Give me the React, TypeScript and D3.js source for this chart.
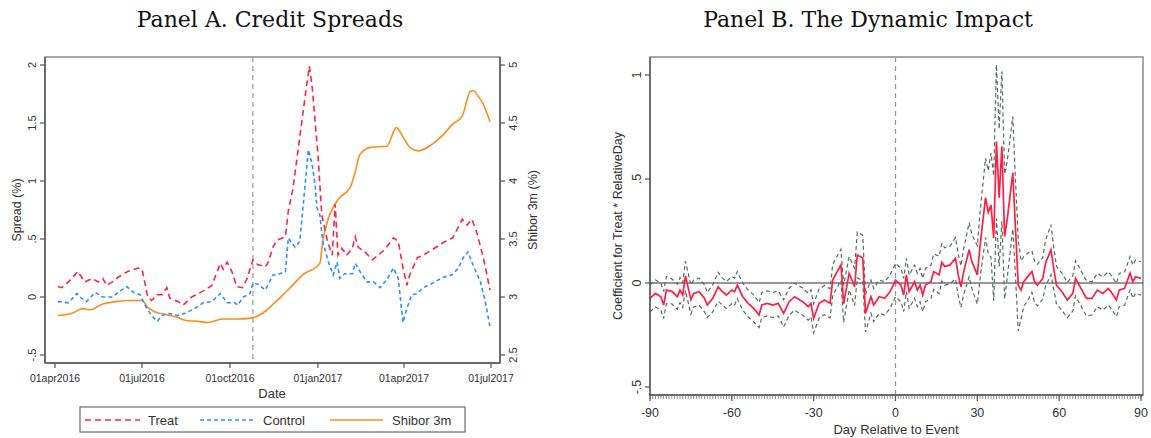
import React from "react";
import * as d3 from "d3";

// ---------- Panel A data (days since 01apr2016) ----------
const treatDay = [3, 7, 14, 24, 31, 39, 45, 50, 54, 60, 66, 76, 87, 91, 97, 101, 107, 112, 117, 120, 129, 134, 143, 150, 157, 164, 173, 176, 180, 185, 190, 196, 201, 207, 212, 220, 223, 228, 232, 241, 244, 249, 256, 262, 266, 269, 272, 275, 279, 285, 290, 293, 296, 300, 305, 311, 314, 317, 324, 332, 338, 345, 354, 359, 364, 368, 371, 379, 385, 395, 406, 416, 426, 431, 436, 441, 448, 455];
const treatSpread = [0.09, 0.08, 0.13, 0.22, 0.13, 0.16, 0.13, 0.16, 0.10, 0.13, 0.17, 0.22, 0.25, 0.24, 0.0, -0.03, 0.02, 0.02, 0.08, -0.01, -0.04, -0.07, 0.0, 0.03, 0.06, 0.10, 0.29, 0.24, 0.30, 0.22, 0.09, 0.08, 0.16, 0.32, 0.28, 0.26, 0.30, 0.43, 0.49, 0.52, 0.74, 0.94, 1.38, 1.75, 1.99, 1.81, 1.52, 1.23, 0.71, 0.48, 0.36, 0.80, 0.36, 0.42, 0.36, 0.42, 0.52, 0.43, 0.39, 0.32, 0.36, 0.41, 0.51, 0.48, 0.25, 0.10, 0.19, 0.34, 0.36, 0.41, 0.47, 0.51, 0.67, 0.62, 0.67, 0.56, 0.34, 0.06];

const controlDay = [3, 14, 23, 26, 33, 42, 50, 60, 66, 75, 82, 89, 94, 101, 107, 112, 118, 128, 136, 146, 155, 164, 173, 180, 188, 191, 197, 204, 207, 212, 220, 228, 232, 241, 244, 251, 256, 262, 265, 269, 272, 274, 277, 280, 286, 291, 295, 298, 303, 311, 314, 319, 326, 333, 340, 347, 354, 359, 364, 368, 373, 379, 385, 395, 406, 415, 422, 427, 432, 437, 445, 450, 455];
const controlSpread = [-0.04, -0.05, 0.03, 0.0, -0.04, 0.04, 0.0, 0.0, 0.04, 0.09, 0.04, 0.02, -0.07, -0.16, -0.21, -0.16, -0.14, -0.16, -0.14, -0.10, -0.05, -0.04, 0.03, -0.05, -0.05, -0.07, 0.0, 0.03, 0.12, 0.11, 0.06, 0.19, 0.19, 0.22, 0.51, 0.43, 0.48, 1.0, 1.27, 1.14, 0.97, 0.77, 0.71, 0.48, 0.30, 0.19, 0.30, 0.16, 0.20, 0.20, 0.29, 0.22, 0.13, 0.13, 0.08, 0.15, 0.25, 0.16, -0.22, -0.10, 0.02, 0.03, 0.08, 0.12, 0.17, 0.19, 0.25, 0.34, 0.39, 0.28, 0.13, -0.04, -0.26];

const shiborDay = [3, 18, 29, 37, 50, 63, 81, 91, 97, 105, 115, 126, 136, 150, 160, 175, 191, 206, 217, 227, 235, 246, 259, 277, 280, 286, 291, 296, 309, 314, 319, 330, 347, 357, 364, 371, 380, 395, 406, 416, 426, 431, 434, 438, 441, 448, 455];
const shiborRate = [2.84, 2.86, 2.90, 2.89, 2.94, 2.96, 2.97, 2.97, 2.91, 2.87, 2.85, 2.83, 2.80, 2.79, 2.78, 2.81, 2.81, 2.82, 2.86, 2.93, 2.99, 3.08, 3.19, 3.29, 3.48, 3.68, 3.77, 3.84, 3.95, 4.08, 4.23, 4.29, 4.30, 4.46, 4.38, 4.29, 4.26, 4.32, 4.40, 4.49, 4.56, 4.70, 4.77, 4.78, 4.75, 4.66, 4.51];

const eventDayA = 207;
const xTickLabelsA = ["01apr2016", "01jul2016", "01oct2016", "01jan2017", "01apr2017", "01jul2017"];
const xTickDatesA = [[2016, 3, 1], [2016, 6, 1], [2016, 9, 1], [2017, 0, 1], [2017, 3, 1], [2017, 6, 1]];
const yTicksLeft = [-0.5, 0, 0.5, 1, 1.5, 2];
const yTicksRight = [2.5, 3, 3.5, 4, 4.5, 5];

// ---------- Panel B data ----------
const relDay = [-90, -88, -86, -85, -84, -82, -80, -79, -78, -77, -75, -74, -72, -70, -69, -67, -65, -64, -62, -60, -59, -58, -56, -54, -52, -50, -49, -47, -45, -43, -41, -39, -37, -34, -32, -31, -30, -28, -26, -24, -23, -20, -19, -17, -15, -14, -12, -11, -9, -8, -6, -4, -2, 0, 2, 3, 4, 5, 7, 8, 9, 10, 11, 13, 14, 16, 17, 18, 20, 22, 23, 24, 25, 27, 28, 30, 31, 33, 34, 35, 36, 37, 38, 39, 40, 41, 43, 44, 45, 46, 47, 49, 50, 51, 52, 54, 55, 57, 58, 59, 61, 63, 65, 66, 68, 70, 72, 74, 76, 78, 79, 81, 82, 84, 86, 87, 88, 90];
const coef = [-0.074, -0.05, -0.066, -0.106, -0.034, -0.04, -0.066, -0.034, -0.058, 0.034, -0.08, -0.05, -0.042, -0.074, -0.106, -0.074, -0.018, -0.034, -0.058, -0.034, -0.042, -0.01, -0.066, -0.098, -0.122, -0.154, -0.106, -0.098, -0.106, -0.098, -0.146, -0.09, -0.066, -0.09, -0.114, -0.098, -0.17, -0.098, -0.082, -0.098, 0.015, 0.087, -0.1, 0.047, -0.018, 0.135, 0.12, -0.146, -0.066, -0.106, -0.066, -0.074, -0.042, 0.014, -0.01, -0.058, 0.039, -0.042, 0.006, -0.034, -0.01, -0.058, -0.01, 0.006, 0.055, 0.039, 0.10, 0.079, 0.087, 0.119, 0.039, -0.018, 0.055, 0.16, 0.103, 0.039, 0.18, 0.41, 0.34, 0.375, 0.215, 0.68, 0.41, 0.657, 0.223, 0.31, 0.53, 0.26, -0.01, -0.034, 0.006, 0.039, 0.055, 0.006, -0.01, 0.022, 0.095, 0.16, 0.071, -0.01, -0.042, -0.082, -0.05, 0.022, -0.026, -0.074, -0.074, -0.034, -0.05, -0.026, -0.042, -0.082, -0.034, -0.026, 0.047, 0.006, 0.03, 0.022];
const halfWidth = [0.065, 0.065, 0.065, 0.065, 0.065, 0.06, 0.06, 0.06, 0.06, 0.07, 0.07, 0.065, 0.065, 0.065, 0.06, 0.065, 0.07, 0.065, 0.065, 0.065, 0.065, 0.065, 0.065, 0.065, 0.065, 0.06, 0.06, 0.06, 0.06, 0.06, 0.065, 0.065, 0.065, 0.065, 0.065, 0.065, 0.07, 0.07, 0.07, 0.07, 0.075, 0.075, 0.09, 0.08, 0.09, 0.11, 0.11, 0.09, 0.08, 0.08, 0.08, 0.08, 0.08, 0.08, 0.08, 0.08, 0.08, 0.08, 0.08, 0.08, 0.08, 0.08, 0.08, 0.08, 0.085, 0.09, 0.09, 0.09, 0.09, 0.1, 0.1, 0.1, 0.11, 0.13, 0.13, 0.14, 0.16, 0.19, 0.2, 0.25, 0.3, 0.37, 0.33, 0.36, 0.3, 0.28, 0.27, 0.23, 0.22, 0.14, 0.12, 0.11, 0.1, 0.1, 0.1, 0.1, 0.11, 0.12, 0.1, 0.09, 0.09, 0.085, 0.085, 0.085, 0.085, 0.085, 0.08, 0.08, 0.08, 0.08, 0.08, 0.08, 0.08, 0.08, 0.08, 0.08, 0.08, 0.08];
const xTicksB = [-90, -60, -30, 0, 30, 60, 90];
const yTicksB = [-0.5, 0, 0.5, 1];

const SANS = "'Liberation Sans', Arial, sans-serif";
const SERIF = "'DejaVu Serif', serif";

const fmt = (v: number) => {
  if (v === 0) return "0";
  const s = String(v);
  return s.replace(/^0\./, ".").replace(/^-0\./, "-.");
};

function PanelA() {
  const start = new Date(2016, 3, 1);
  const toDate = (d: number) => d3.timeDay.offset(start, d);
  const x = d3.scaleTime().domain([start, new Date(2017, 6, 1)]).range([55, 491]);
  const y = d3.scaleLinear().domain([-0.5, 2]).range([355, 65]);
  const yR = d3.scaleLinear().domain([2.5, 5]).range([355, 65]);
  const L = 45, R = 500, T = 57, B = 363;

  const lineS = d3.line<[number, number]>().x((p) => x(toDate(p[0]))).y((p) => y(p[1]));
  const lineR = d3.line<[number, number]>().x((p) => x(toDate(p[0]))).y((p) => yR(p[1])).curve(d3.curveMonotoneX);
  const tr = treatDay.map((d, i) => [d, treatSpread[i]] as [number, number]);
  const co = controlDay.map((d, i) => [d, controlSpread[i]] as [number, number]);
  const sh = shiborDay.map((d, i) => [d, shiborRate[i]] as [number, number]);
  const ev = x(toDate(eventDayA));

  return (
    <g>
      <text x={270} y={27} textAnchor="middle" fontFamily={SERIF} fontSize={22} fill="#111">Panel A. Credit Spreads</text>
      <rect x={L} y={T} width={R - L} height={B - T} fill="none" stroke="#8a8a8a" strokeWidth={1.5} />
      <line x1={ev} x2={ev} y1={T} y2={B} stroke="#999" strokeWidth={1.2} strokeDasharray="5,4" />
      <path d={lineR(sh) || ""} fill="none" stroke="#ff8c1e" strokeWidth={1.6} />
      <path d={lineS(co) || ""} fill="none" stroke="#2e90ff" strokeWidth={1.6} strokeDasharray="4,3" />
      <path d={lineS(tr) || ""} fill="none" stroke="#ff2447" strokeWidth={1.6} strokeDasharray="6,4" />
      <line x1={L} x2={L} y1={T} y2={B} stroke="#555" strokeWidth={1.4} />
      <line x1={R} x2={R} y1={T} y2={B} stroke="#555" strokeWidth={1.4} />
      <line x1={L} x2={R} y1={B} y2={B} stroke="#555" strokeWidth={1.4} />
      {yTicksLeft.map((v) => (
        <g key={"l" + v}>
          <line x1={L - 5} x2={L} y1={y(v)} y2={y(v)} stroke="#555" strokeWidth={1.2} />
          <text transform={`translate(${L - 9},${y(v)}) rotate(-90)`} textAnchor="middle" fontFamily={SANS} fontSize={11} fill="#333">{fmt(v)}</text>
        </g>
      ))}
      {yTicksRight.map((v) => (
        <g key={"r" + v}>
          <line x1={R} x2={R + 5} y1={yR(v)} y2={yR(v)} stroke="#555" strokeWidth={1.2} />
          <text transform={`translate(${R + 17},${yR(v)}) rotate(-90)`} textAnchor="middle" fontFamily={SANS} fontSize={11} fill="#333">{fmt(v)}</text>
        </g>
      ))}
      {xTickDatesA.map((dd, i) => {
        const px = x(new Date(dd[0], dd[1], dd[2]));
        return (
          <g key={"x" + i}>
            <line x1={px} x2={px} y1={B} y2={B + 5} stroke="#555" strokeWidth={1.2} />
            <text x={px} y={B + 19} textAnchor="middle" fontFamily={SANS} fontSize={10.5} fill="#333">{xTickLabelsA[i]}</text>
          </g>
        );
      })}
      <text x={272} y={398} textAnchor="middle" fontFamily={SANS} fontSize={13} fill="#333">Date</text>
      <text transform={`translate(21,${(T + B) / 2}) rotate(-90)`} textAnchor="middle" fontFamily={SANS} fontSize={12.5} fill="#333">Spread (%)</text>
      <text transform={`translate(537,${(T + B) / 2}) rotate(-90)`} textAnchor="middle" fontFamily={SANS} fontSize={12.5} fill="#333">Shibor 3m (%)</text>
      <rect x={80} y={407} width={385} height={25} fill="#fff" stroke="#777" strokeWidth={1.3} />
      <line x1={85} x2={140} y1={420} y2={420} stroke="#ff2447" strokeWidth={1.6} strokeDasharray="6,4" />
      <text x={148} y={424.5} fontFamily={SANS} fontSize={13} fill="#333">Treat</text>
      <line x1={200} x2={253} y1={420} y2={420} stroke="#2e90ff" strokeWidth={1.6} strokeDasharray="4,3" />
      <text x={263} y={424.5} fontFamily={SANS} fontSize={13} fill="#333">Control</text>
      <line x1={330} x2={383} y1={420} y2={420} stroke="#ff8c1e" strokeWidth={1.6} />
      <text x={392} y={424.5} fontFamily={SANS} fontSize={13} fill="#333">Shibor 3m</text>
    </g>
  );
}

function PanelB() {
  const L = 650, R = 1143, T = 57, B = 395;
  const x = d3.scaleLinear().domain([-90, 90]).range([650, 1141]);
  const y = d3.scaleLinear().domain([-0.5, 1]).range([387, 75]);
  const line = d3.line<[number, number]>().x((p) => x(p[0])).y((p) => y(p[1]));
  const c = relDay.map((d, i) => [d, coef[i]] as [number, number]);
  const up = relDay.map((d, i) => [d, coef[i] + halfWidth[i]] as [number, number]);
  const lo = relDay.map((d, i) => [d, coef[i] - halfWidth[i]] as [number, number]);
  const minor = d3.range(-90, 91, 1);
  return (
    <g>
      <text x={868} y={27} textAnchor="middle" fontFamily={SERIF} fontSize={22} fill="#111">Panel B. The Dynamic Impact</text>
      <rect x={L} y={T} width={R - L} height={B - T} fill="none" stroke="#8a8a8a" strokeWidth={1.5} />
      <line x1={x(0)} x2={x(0)} y1={T} y2={B} stroke="#999" strokeWidth={1.2} strokeDasharray="5,4" />
      <line x1={L} x2={R} y1={y(0)} y2={y(0)} stroke="#333" strokeWidth={1.2} />
      <path d={line(up) || ""} fill="none" stroke="#5c6b60" strokeWidth={1.2} strokeDasharray="4,3" />
      <path d={line(lo) || ""} fill="none" stroke="#5c6b60" strokeWidth={1.2} strokeDasharray="4,3" />
      <path d={line(c) || ""} fill="none" stroke="#ff1f45" strokeWidth={1.7} />
      <line x1={L} x2={L} y1={T} y2={B} stroke="#555" strokeWidth={1.4} />
      <line x1={L} x2={R} y1={B} y2={B} stroke="#555" strokeWidth={1.4} />
      {minor.map((d) => (
        <line key={"m" + d} x1={x(d)} x2={x(d)} y1={B} y2={B + 4} stroke="#777" strokeWidth={0.8} />
      ))}
      {xTicksB.map((d) => (
        <g key={"xb" + d}>
          <line x1={x(d)} x2={x(d)} y1={B} y2={B + 6} stroke="#555" strokeWidth={1.2} />
          <text x={x(d)} y={B + 22} textAnchor="middle" fontFamily={SANS} fontSize={12.5} fill="#333">{String(d)}</text>
        </g>
      ))}
      {yTicksB.map((v) => (
        <g key={"yb" + v}>
          <line x1={L - 5} x2={L} y1={y(v)} y2={y(v)} stroke="#555" strokeWidth={1.2} />
          <text transform={`translate(${L - 9},${y(v)}) rotate(-90)`} textAnchor="middle" fontFamily={SANS} fontSize={12.5} fill="#333">{fmt(v)}</text>
        </g>
      ))}
      <text x={896} y={434} textAnchor="middle" fontFamily={SANS} fontSize={13} fill="#333">Day Relative to Event</text>
      <text transform={`translate(622,226) rotate(-90)`} textAnchor="middle" fontFamily={SANS} fontSize={12.5} fill="#333">Coefficient for Treat * RelativeDay</text>
    </g>
  );
}

export default function App() {
  return (
    <svg width={1151} height={438} viewBox="0 0 1151 438" style={{ position: "absolute", left: 0, top: 0, background: "#fff" }}>
      <rect x={0} y={0} width={1151} height={438} fill="#fff" />
      <PanelA />
      <PanelB />
    </svg>
  );
}
